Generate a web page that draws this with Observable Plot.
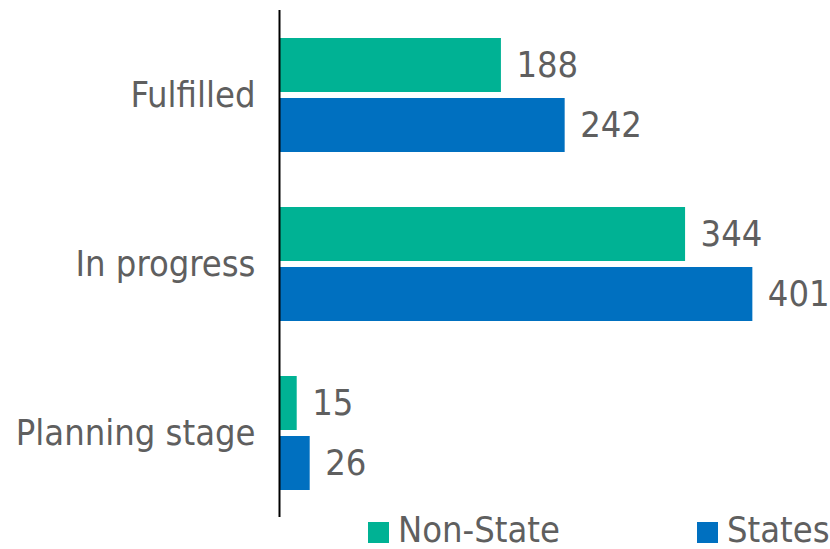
<!DOCTYPE html>
<html>
<head>
<meta charset="utf-8">
<script src="https://cdn.jsdelivr.net/npm/d3@7"></script>
<script src="https://cdn.jsdelivr.net/npm/@observablehq/plot@0.6"></script>
<style>
  body { margin: 0; background: #fff; font-family: "DejaVu Sans Condensed", "DejaVu Sans", sans-serif; }
  #wrap { position: relative; width: 830px; height: 549px; overflow: hidden; }
  .sw { position: absolute; top: 522px; width: 21px; height: 21px; }
  .lt { position: absolute; top: 515px; font-size: 36px; line-height: 30px; height: 30px; color: #5f5f5f; white-space: nowrap; }
</style>
</head>
<body>
<div id="wrap"></div>
<script>
const categories = ["Fulfilled", "In progress", "Planning stage"];
const series = ["Non-State", "States"];
const nonStateValues = [188, 344, 15];
const stateValues = [242, 401, 26];
const colors = ["#00B294", "#0070C0"];

const data = [];
categories.forEach((c, i) => {
  data.push({category: c, series: series[0], value: nonStateValues[i]});
  data.push({category: c, series: series[1], value: stateValues[i]});
});

const chart = Plot.plot({
  width: 830,
  height: 517,
  marginTop: 9,
  marginBottom: 0,
  marginLeft: 279,
  marginRight: 8,
  style: {fontFamily: '"DejaVu Sans Condensed", "DejaVu Sans", sans-serif', fontSize: "36px", color: "#5f5f5f", background: "#fff"},
  x: {domain: [0, 460], axis: null},
  y: {domain: series, axis: null, paddingInner: 0.1, paddingOuter: 0.447},
  fy: {domain: categories, padding: 0, label: null, tickSize: 0, tickPadding: 24, fontSize: 36},
  color: {domain: series, range: colors},
  marks: [
    Plot.barX(data, {fy: "category", y: "series", x: "value", fill: "series"}),
    Plot.text(data, {fy: "category", y: "series", x: "value", text: d => String(d.value), textAnchor: "start", dx: 15, fill: "#5f5f5f", fontSize: 36}),
    Plot.ruleX([0], {stroke: "#000", strokeWidth: 2})
  ]
});
chart.style.position = "absolute";
chart.style.left = "0px";
chart.style.top = "0px";
const wrap = document.getElementById("wrap");
wrap.appendChild(chart);

const legPos = [368, 697];
series.forEach((s, i) => {
  const sw = document.createElement("div");
  sw.className = "sw";
  sw.style.left = legPos[i] + "px";
  sw.style.background = colors[i];
  wrap.appendChild(sw);
  const t = document.createElement("div");
  t.className = "lt";
  t.style.left = (legPos[i] + 30) + "px";
  t.textContent = s;
  wrap.appendChild(t);
});
</script>
</body>
</html>
